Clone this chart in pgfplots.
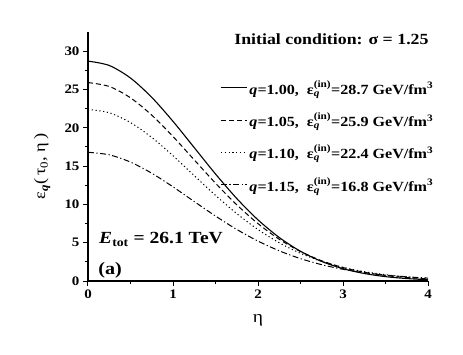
\documentclass[border=0pt]{standalone}
\usepackage{fontspec}
\setmainfont[FakeStretch=1.15]{Liberation Serif}
\usepackage{amsmath}
\usepackage{pgfplots}
\pgfplotsset{compat=1.18}
\begin{document}
\begin{tikzpicture}
\useasboundingbox (-88pt,-73pt) rectangle (375pt,281pt);
\begin{axis}[
 at={(0pt,0pt)}, anchor=south west,
 scale only axis, width=340pt, height=249pt,
 xmin=0, xmax=4, ymin=0, ymax=32.5,
 axis x line*=bottom, axis y line*=left,
 axis line style={line width=1.3pt, -},
 xtick={0,1,2,3,4}, ytick={0,5,...,30},
 minor x tick num=1, minor y tick num=1,
 tick align=outside,
 major tick length=5pt, minor tick length=3pt,
 every tick/.style={line width=1pt, black},
 /pgf/number format/assume math mode=true,
 ticklabel style={font=\fontsize{13}{15}\selectfont\bfseries},
 xlabel={η},
 ylabel={ε\textsubscript{\textbf{\textit{q}}}(\,τ\textsubscript{0}, η\,)},
 xlabel style={at={(axis description cs:0.5,-0.157)}, anchor=center, font=\fontsize{17}{19}\selectfont},
 ylabel style={at={(axis description cs:-0.135,0.46)}, anchor=center, font=\fontsize{16}{18}\selectfont},
 legend style={draw=none, fill=none, at={(axis description cs:1.022,0.815)}, anchor=north east,
   font=\fontsize{14}{16}\selectfont\bfseries, row sep=13pt, inner sep=0pt},
 legend cell align=left,
 legend image code/.code={\draw[#1] (0pt,0pt) -- (26pt,0pt);},
 clip=false,
]
\addplot[black, line width=1.1pt, smooth] coordinates {(0,28.70)(0.25,28.13)(0.5,26.49)(0.75,23.97)(1,20.84)(1.25,17.41)(1.5,13.97)(1.75,10.77)(2,7.98)(2.25,5.68)(2.5,3.88)(2.75,2.55)(3,1.61)(3.25,0.98)(3.5,0.57)(3.75,0.32)(4,0.17)};
\addlegendentry{\textit{q}=1.00,\ \ ε$^{\text{(in)}}_{\text{\itshape q}}$=28.7 GeV/fm\textsuperscript{3}}
\addplot[black, line width=1pt, smooth, dash pattern=on 5pt off 3pt] coordinates {(0,25.90)(0.25,25.39)(0.5,23.91)(0.75,21.65)(1,18.86)(1.25,15.81)(1.5,12.77)(1.75,9.95)(2,7.49)(2.25,5.45)(2.5,3.85)(2.75,2.64)(3,1.76)(3.25,1.14)(3.5,0.72)(3.75,0.45)(4,0.27)};
\addlegendentry{\textit{q}=1.05,\ \ ε$^{\text{(in)}}_{\text{\itshape q}}$=25.9 GeV/fm\textsuperscript{3}}
\addplot[black, line width=1pt, smooth, dash pattern=on 1.2pt off 2.6pt] coordinates {(0,22.40)(0.25,21.96)(0.5,20.68)(0.75,18.74)(1,16.35)(1.25,13.75)(1.5,11.18)(1.75,8.80)(2,6.72)(2.25,4.99)(2.5,3.62)(2.75,2.56)(3,1.78)(3.25,1.22)(3.5,0.82)(3.75,0.55)(4,0.36)};
\addlegendentry{\textit{q}=1.10,\ \ ε$^{\text{(in)}}_{\text{\itshape q}}$=22.4 GeV/fm\textsuperscript{3}}
\addplot[black, line width=1pt, smooth, dash pattern=on 6pt off 2.5pt on 1.2pt off 2.5pt] coordinates {(0,16.80)(0.25,16.47)(0.5,15.52)(0.75,14.07)(1,12.29)(1.25,10.37)(1.5,8.48)(1.75,6.73)(2,5.21)(2.25,3.94)(2.5,2.92)(2.75,2.13)(3,1.53)(3.25,1.09)(3.5,0.77)(3.75,0.54)(4,0.38)};
\addlegendentry{\textit{q}=1.15,\ \ ε$^{\text{(in)}}_{\text{\itshape q}}$=16.8 GeV/fm\textsuperscript{3}}
\node[anchor=base east, font=\fontsize{15.5}{18}\selectfont\bfseries] at (axis description cs:1.012,0.948) {Initial condition: σ = 1.25};
\node[anchor=base west, font=\fontsize{17}{20}\selectfont\bfseries, inner sep=0pt] at (axis cs:0.13,4.9) {\textit{E}\textsubscript{tot} = 26.1 TeV};
\node[anchor=base west, font=\fontsize{17.5}{20}\selectfont\bfseries, inner sep=0pt] at (axis cs:0.12,0.8) {(a)};
\end{axis}
\end{tikzpicture}
\end{document}
